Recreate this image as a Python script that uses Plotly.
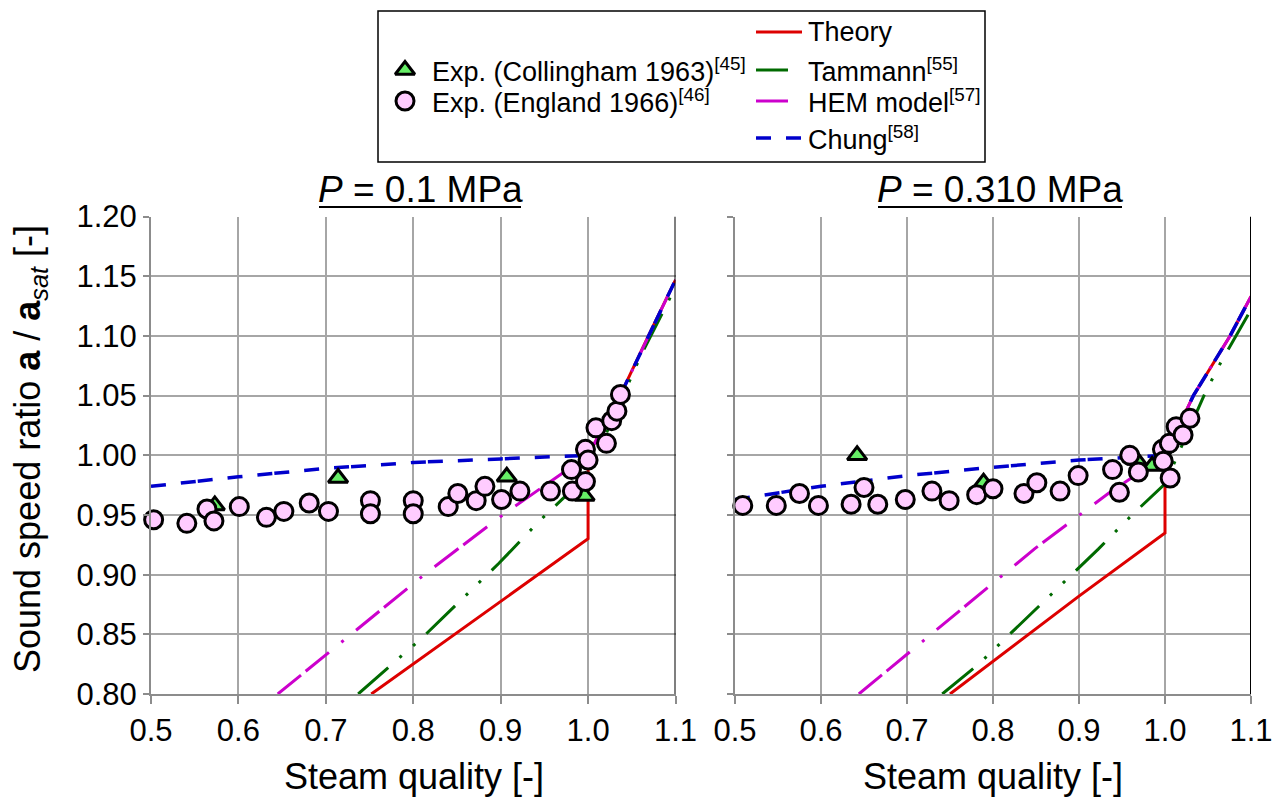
import plotly.graph_objects as go

# ---------------- data: P = 0.1 MPa ----------------
coll_x_01 = [0.573, 0.714, 0.907, 0.996]
coll_y_01 = [0.958, 0.981, 0.982, 0.966]

eng_x_01 = [0.503, 0.541, 0.564, 0.572, 0.601, 0.632, 0.652, 0.681, 0.703, 0.751,
            0.751, 0.800, 0.800, 0.840, 0.851, 0.872, 0.882, 0.901, 0.922, 0.957,
            0.981, 0.982, 0.997, 0.997, 1.000, 1.009, 1.021, 1.027, 1.033, 1.037]
eng_y_01 = [0.946, 0.943, 0.955, 0.945, 0.957, 0.948, 0.953, 0.960, 0.953, 0.962,
            0.951, 0.962, 0.951, 0.957, 0.968, 0.962, 0.974, 0.963, 0.970, 0.970,
            0.988, 0.970, 0.978, 1.005, 0.996, 1.023, 1.010, 1.029, 1.037, 1.051]

theory_x_01 = [0.752, 0.900, 1.000, 1.000, 1.0366, 1.069, 1.100]
theory_y_01 = [0.800, 0.878, 0.930, 1.000, 1.050, 1.100, 1.147]

tammann_x_01 = [0.737, 0.810, 0.898, 0.943, 1.000, 1.060, 1.100]
tammann_y_01 = [0.800, 0.847, 0.9095, 0.944, 0.984, 1.083, 1.141]

hem_x_01 = [0.645, 0.816, 0.906, 0.964, 1.000, 1.0366, 1.069, 1.100]
hem_y_01 = [0.800, 0.902, 0.952, 0.982, 1.000, 1.050, 1.100, 1.147]

chung_x_01 = [0.5, 0.6, 0.7, 0.8, 0.9, 1.0, 1.0366, 1.069, 1.100]
chung_y_01 = [0.974, 0.982, 0.989, 0.994, 0.997, 1.000, 1.050, 1.100, 1.147]

# ---------------- data: P = 0.310 MPa ----------------
coll_x_031 = [0.642, 0.789, 0.967, 0.985]
coll_y_031 = [1.000, 0.977, 0.996, 0.991]

eng_x_031 = [0.509, 0.548, 0.575, 0.597, 0.635, 0.650, 0.666, 0.698, 0.729, 0.749,
             0.781, 0.800, 0.836, 0.851, 0.878, 0.899, 0.939, 0.947, 0.959, 0.969,
             0.997, 0.998, 1.006, 1.005, 1.013, 1.021, 1.029]
eng_y_031 = [0.958, 0.958, 0.968, 0.958, 0.959, 0.973, 0.959, 0.963, 0.970, 0.962,
             0.967, 0.972, 0.968, 0.977, 0.970, 0.983, 0.988, 0.969, 1.000, 0.986,
             1.005, 0.995, 0.981, 1.010, 1.024, 1.017, 1.031]

theory_x_031 = [0.750, 0.900, 1.000, 1.000, 1.033, 1.0756, 1.100]
theory_y_031 = [0.800, 0.882, 0.935, 1.000, 1.050, 1.100, 1.133]

tammann_x_031 = [0.741, 0.7836, 0.9224, 0.963, 1.000, 1.0465, 1.065, 1.100]
tammann_y_031 = [0.800, 0.8252, 0.9214, 0.951, 0.976, 1.052, 1.078, 1.122]

hem_x_031 = [0.644, 0.849, 0.934, 1.000, 1.033, 1.0756, 1.100]
hem_y_031 = [0.800, 0.922, 0.968, 1.000, 1.050, 1.100, 1.133]

chung_x_031 = [0.5, 0.6, 0.7, 0.8, 0.9, 1.0, 1.033, 1.0756, 1.100]
chung_y_031 = [0.963, 0.974, 0.983, 0.990, 0.996, 1.000, 1.050, 1.100, 1.133]

x_ticks = [0.5, 0.6, 0.7, 0.8, 0.9, 1.0, 1.1]
y_ticks = [0.80, 0.85, 0.90, 0.95, 1.00, 1.05, 1.10, 1.15, 1.20]

panel_titles = ["<i>P</i> = 0.1 MPa", "<i>P</i> = 0.310 MPa"]
x_title = "Steam quality [-]"
y_title = "Sound speed ratio <b>a</b> / <b>a</b><sub><i>sat</i></sub> [-]"

legend_markers = ["Exp. (Collingham 1963)<sup>[45]</sup>", "Exp. (England 1966)<sup>[46]</sup>"]
legend_lines = ["Theory", "Tammann<sup>[55]</sup>", "HEM model<sup>[57]</sup>", "Chung<sup>[58]</sup>"]

# ---------------- styles ----------------
FONT = "Liberation Sans, Arial, sans-serif"
RED = "#DD0000"
GREEN = "#006A00"
MAGENTA = "#CC00CC"
BLUE = "#0000CC"
PINK = "#FFCCFF"
LIME = "#66EE66"
GRID = "#A6A6A6"

line_styles = {
    "theory": dict(color=RED, width=3, dash="solid"),
    "tammann": dict(color=GREEN, width=3, dash="40px,15px,3px,15px,3px,15px"),
    "hem": dict(color=MAGENTA, width=3, dash="30px,6px,30px,16px,3px,16px"),
    "chung": dict(color=BLUE, width=3.5, dash="15px,15px,15px,2px,15px,15px"),
}
tri_marker = dict(symbol="triangle-up", size=17, color=LIME, line=dict(color="black", width=3))
circ_marker = dict(symbol="circle", size=18, color=PINK, line=dict(color="black", width=3))

W, H = 1277, 801
fig = go.Figure()

panels = [
    ("x", "y", theory_x_01, theory_y_01, tammann_x_01, tammann_y_01, hem_x_01, hem_y_01,
     chung_x_01, chung_y_01, coll_x_01, coll_y_01, eng_x_01, eng_y_01),
    ("x2", "y2", theory_x_031, theory_y_031, tammann_x_031, tammann_y_031, hem_x_031, hem_y_031,
     chung_x_031, chung_y_031, coll_x_031, coll_y_031, eng_x_031, eng_y_031),
]
for (xa, ya, tx, ty, tmx, tmy, hx, hy, cx, cy, ex1, ey1, ex2, ey2) in panels:
    fig.add_trace(go.Scatter(x=tx, y=ty, mode="lines", line=line_styles["theory"], xaxis=xa, yaxis=ya, showlegend=False))
    fig.add_trace(go.Scatter(x=tmx, y=tmy, mode="lines", line=line_styles["tammann"], xaxis=xa, yaxis=ya, showlegend=False))
    fig.add_trace(go.Scatter(x=hx, y=hy, mode="lines", line=line_styles["hem"], xaxis=xa, yaxis=ya, showlegend=False))
    fig.add_trace(go.Scatter(x=cx, y=cy, mode="lines", line=line_styles["chung"], xaxis=xa, yaxis=ya, showlegend=False))
    fig.add_trace(go.Scatter(x=ex1, y=ey1, mode="markers", marker=tri_marker, cliponaxis=False,
                             xaxis=xa, yaxis=ya, showlegend=False))
    fig.add_trace(go.Scatter(x=ex2, y=ey2, mode="markers", marker=circ_marker, cliponaxis=False,
                             xaxis=xa, yaxis=ya, showlegend=False))

# ---------------- legend box drawn in a pixel-space overlay ----------------
px = dict(xaxis="x3", yaxis="y3", showlegend=False, hoverinfo="skip")
fig.add_trace(go.Scatter(x=[405], y=[70], mode="markers", marker=tri_marker, **px))
fig.add_trace(go.Scatter(x=[405], y=[101], mode="markers", marker=circ_marker, **px))
fig.add_trace(go.Scatter(x=[756, 802], y=[32, 32], mode="lines", line=dict(color=RED, width=3), **px))
fig.add_trace(go.Scatter(x=[756, 788], y=[70, 70], mode="lines", line=dict(color=GREEN, width=3), **px))
fig.add_trace(go.Scatter(x=[756, 788], y=[101, 101], mode="lines", line=dict(color=MAGENTA, width=3), **px))
fig.add_trace(go.Scatter(x=[756, 802], y=[138, 138], mode="lines",
                         line=dict(color=BLUE, width=3.5, dash="15px,15px"), **px))

annotations = []
for txt, yy in zip(legend_markers, [70, 101]):
    annotations.append(dict(x=430, y=yy, xref="x3", yref="y3", text=txt, showarrow=False,
                            xanchor="left", yanchor="middle", font=dict(size=27, color="black", family=FONT)))
for txt, yy in zip(legend_lines, [32, 70, 101, 138]):
    annotations.append(dict(x=806, y=yy, xref="x3", yref="y3", text=txt, showarrow=False,
                            xanchor="left", yanchor="middle", font=dict(size=27, color="black", family=FONT)))

# panel titles
for txt, xc in zip(panel_titles, [420, 1000]):
    annotations.append(dict(x=xc, y=189, xref="x3", yref="y3", text=txt, showarrow=False,
                            xanchor="center", yanchor="middle", font=dict(size=37, color="black", family=FONT)))
# axis titles
for xc in [414, 993]:
    annotations.append(dict(x=xc, y=776, xref="x3", yref="y3", text=x_title, showarrow=False,
                            xanchor="center", yanchor="middle", font=dict(size=36, color="black", family=FONT)))
annotations.append(dict(x=30, y=449, xref="x3", yref="y3", text=y_title, showarrow=False, textangle=-90,
                        xanchor="center", yanchor="middle", font=dict(size=36, color="black", family=FONT)))

shapes = [
    dict(type="rect", xref="x3", yref="y3", x0=378, x1=985, y0=11, y1=162,
         line=dict(color="black", width=1.5), fillcolor="rgba(0,0,0,0)"),
    dict(type="line", xref="x3", yref="y3", x0=319, x1=521, y0=207, y1=207, line=dict(color="black", width=2)),
    dict(type="line", xref="x3", yref="y3", x0=878, x1=1122, y0=207, y1=207, line=dict(color="black", width=2)),
    dict(type="line", xref="x", yref="y", x0=1.1, x1=1.1, y0=0.8, y1=1.2, line=dict(color="black", width=2)),
    dict(type="line", xref="x2", yref="y2", x0=1.1, x1=1.1, y0=0.8, y1=1.2, line=dict(color="black", width=2)),
]

xbase = dict(range=[0.5, 1.1], tickvals=x_ticks, ticktext=[f"{v:.1f}" for v in x_ticks],
             showgrid=True, gridcolor=GRID, gridwidth=1.5, zeroline=False,
             showline=True, linecolor="#8C8C8C", linewidth=2,
             ticks="outside", ticklen=8, tickwidth=1.5, tickcolor="#8C8C8C",
             tickfont=dict(size=31, color="black", family=FONT), automargin=False)
ybase = dict(range=[0.8, 1.2], tickvals=y_ticks, ticktext=[f"{v:.2f}" for v in y_ticks],
             showgrid=True, gridcolor=GRID, gridwidth=1.5, zeroline=False,
             showline=True, linecolor="#8C8C8C", linewidth=2,
             ticks="outside", ticklen=6, tickwidth=1.5, tickcolor="#8C8C8C",
             tickfont=dict(size=31, color="black", family=FONT), automargin=False)

y_dom = [(H - 694) / H, (H - 216.6) / H]
fig.update_layout(
    width=W, height=H,
    margin=dict(l=0, r=0, t=0, b=0),
    paper_bgcolor="white", plot_bgcolor="rgba(0,0,0,0)",
    xaxis=dict(xbase, domain=[151 / W, 675.5 / W], anchor="y"),
    yaxis=dict(ybase, domain=y_dom, anchor="x"),
    xaxis2=dict(xbase, domain=[735 / W, 1251 / W], anchor="y2"),
    yaxis2=dict(ybase, domain=y_dom, anchor="x2", showticklabels=False),
    xaxis3=dict(domain=[0, 1], range=[0, W], visible=False, anchor="y3", fixedrange=True),
    yaxis3=dict(domain=[0, 1], range=[H, 0], visible=False, anchor="x3", fixedrange=True),
    annotations=annotations,
    shapes=shapes,
    showlegend=False,
)

fig.write_html("out.html")
